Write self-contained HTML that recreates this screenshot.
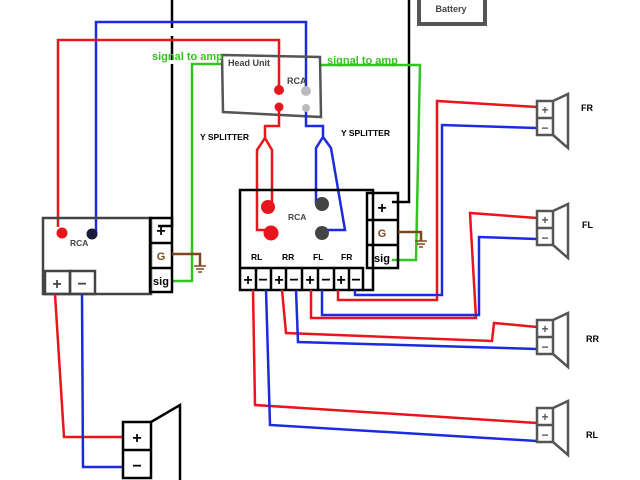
<!DOCTYPE html>
<html><head><style>
body{margin:0;background:#fff}
svg{display:block}
text{font-family:"Liberation Sans",sans-serif;font-weight:bold}
</style></head><body>
<svg width="640" height="480" viewBox="0 0 640 480" xmlns="http://www.w3.org/2000/svg">
<g fill="none" stroke-width="2.5">
<path d="M172 0 V28 M172 36 V60 M172 64 V226 H158" stroke="#000"/>
<path d="M409 0 V202 H392" stroke="#000"/>
<rect x="419" y="-6" width="66" height="30" stroke="#555" stroke-width="4"/>
<path d="M306 91 V22 H96 V233" stroke="#1a2be0"/>
<path d="M279 90 V40 H58 V227" stroke="#e8161c"/>
<path d="M222 64 H192 V281 H172" stroke="#33c51f"/>
<path d="M320 65 H420 L416 260 H392" stroke="#33c51f"/>
<path d="M222 55 L320 57 L321 117 L223 112 Z" stroke="#555"/>
<path d="M279 107 V126 H265 V138 L257 150 V230 H271 M265 138 L272 150 V207 H268" stroke="#e8161c"/>
<path d="M306 108 V126 H323 V137 L316 148 V204 M323 137 L331 148 L345 230 H322" stroke="#1a2be0"/>
<rect x="43" y="218" width="108" height="76" stroke="#444"/>
<rect x="45" y="271" width="25" height="23" stroke="#444"/>
<rect x="70" y="271" width="25" height="23" stroke="#444"/>
<rect x="150" y="218" width="22" height="74" stroke="#000"/>
<path d="M150 243 H172 M150 268 H172" stroke="#000"/>
<path d="M172 254 H200 V266" stroke="#7a4a1e"/>
<path d="M194 266 H206 M196 269 H204 M198 272 H202" stroke="#7a4a1e" stroke-width="1.5"/>
<path d="M55 294 L64 437 H123" stroke="#e8161c"/>
<path d="M82 294 L83 467 H123" stroke="#1a2be0"/>
<rect x="123" y="422" width="28" height="56" stroke="#000"/>
<path d="M123 450 H151 M151 422 L180 405 V480" stroke="#000"/>
<rect x="240" y="190" width="133" height="100" stroke="#000"/>
<rect x="367" y="193" width="31" height="75" stroke="#000"/>
<path d="M367 220 H398 M367 245 H398" stroke="#000"/>
<path d="M240 268 H363 V290 M256 268 V290 M271 268 V290 M286 268 V290 M302 268 V290 M318 268 V290 M334 268 V290 M349 268 V290" stroke="#000"/>
<path d="M398 232 H421 V241" stroke="#7a4a1e"/>
<path d="M415 241 H427 M417 244 H425 M419 247 H423" stroke="#7a4a1e" stroke-width="1.5"/>
<path d="M338 290 V300 H437 V101 L537 107" stroke="#e8161c"/>
<path d="M355 290 V295 H442 V125 L537 128" stroke="#1a2be0"/>
<path d="M311 290 V318 H476 L470 213 L537 218" stroke="#e8161c"/>
<path d="M322 290 V315 H479 V237 L537 239" stroke="#1a2be0"/>
<path d="M282 290 L286 333 L492 341 L494 323 L537 327" stroke="#e8161c"/>
<path d="M296 290 L298 342 L537 349" stroke="#1a2be0"/>
<path d="M253 290 L255 405 L537 423" stroke="#e8161c"/>
<path d="M266 290 L270 425 L537 441" stroke="#1a2be0"/>
<g stroke="#555">
<rect x="537" y="101" width="16" height="34"/><path d="M537 118 H553 M553 101 L568 94 V148 L553 135"/>
<rect x="537" y="211" width="16" height="34"/><path d="M537 228 H553 M553 211 L568 204 V258 L553 245"/>
<rect x="537" y="320" width="16" height="34"/><path d="M537 337 H553 M553 320 L568 313 V367 L553 354"/>
<rect x="537" y="408" width="16" height="34"/><path d="M537 425 H553 M553 408 L568 401 V455 L553 442"/>
</g>
</g>
<circle cx="279" cy="90" r="5" fill="#e8161c"/><circle cx="279" cy="107" r="4.5" fill="#e8161c"/>
<circle cx="306" cy="91" r="5" fill="#bbb"/><circle cx="306" cy="108" r="4" fill="#bbb"/>
<circle cx="62" cy="233" r="5.5" fill="#e8161c"/><circle cx="92" cy="234" r="5.5" fill="#1a1a3a"/>
<circle cx="268" cy="207" r="7" fill="#e8161c"/><circle cx="271" cy="233" r="7.5" fill="#e8161c"/>
<circle cx="322" cy="204" r="7" fill="#444"/><circle cx="322" cy="233" r="7" fill="#444"/>
<text x="451" y="12" font-size="9" fill="#444" text-anchor="middle" font-weight="normal">Battery</text>
<text x="228" y="66" font-size="9" fill="#444">Head Unit</text>
<text x="287" y="84" font-size="9" fill="#444">RCA</text>
<text x="152" y="60" font-size="11" fill="#33c51f">signal to amp</text>
<text x="327" y="64" font-size="11" fill="#33c51f">signal to amp</text>
<text x="200" y="140" font-size="8.5" fill="#000">Y SPLITTER</text>
<text x="341" y="136" font-size="8.5" fill="#000">Y SPLITTER</text>
<text x="70" y="246" font-size="8.5" fill="#444">RCA</text>
<text x="288" y="220" font-size="8.5" fill="#444">RCA</text>
<text x="251" y="260" font-size="8.5">RL</text><text x="282" y="260" font-size="8.5">RR</text>
<text x="313" y="260" font-size="8.5">FL</text><text x="341" y="260" font-size="8.5">FR</text>
<text x="581" y="111" font-size="9">FR</text><text x="582" y="228" font-size="9">FL</text>
<text x="586" y="342" font-size="9">RR</text><text x="586" y="438" font-size="9">RL</text>
<g font-size="16" text-anchor="middle">
<text x="161" y="236">+</text><text x="382" y="213">+</text>
<text x="57" y="289" fill="#444">+</text><text x="82" y="289" fill="#444">−</text>
<text x="137" y="443">+</text><text x="137" y="471">−</text>
<text x="248" y="285">+</text><text x="263" y="285">−</text><text x="279" y="285">+</text><text x="294" y="285">−</text>
<text x="310" y="285">+</text><text x="326" y="285">−</text><text x="341" y="285">+</text><text x="356" y="285">−</text>
</g>
<g font-size="11" text-anchor="middle">
<text x="161" y="260" fill="#7a4a1e">G</text><text x="161" y="285">sig</text>
<text x="382" y="237" fill="#7a4a1e">G</text><text x="382" y="262">sig</text>
</g>
<g font-size="12" text-anchor="middle" fill="#555">
<text x="545" y="114">+</text><text x="545" y="132">−</text>
<text x="545" y="224">+</text><text x="545" y="242">−</text>
<text x="545" y="333">+</text><text x="545" y="351">−</text>
<text x="545" y="421">+</text><text x="545" y="439">−</text>
</g>
</svg>
</body></html>
